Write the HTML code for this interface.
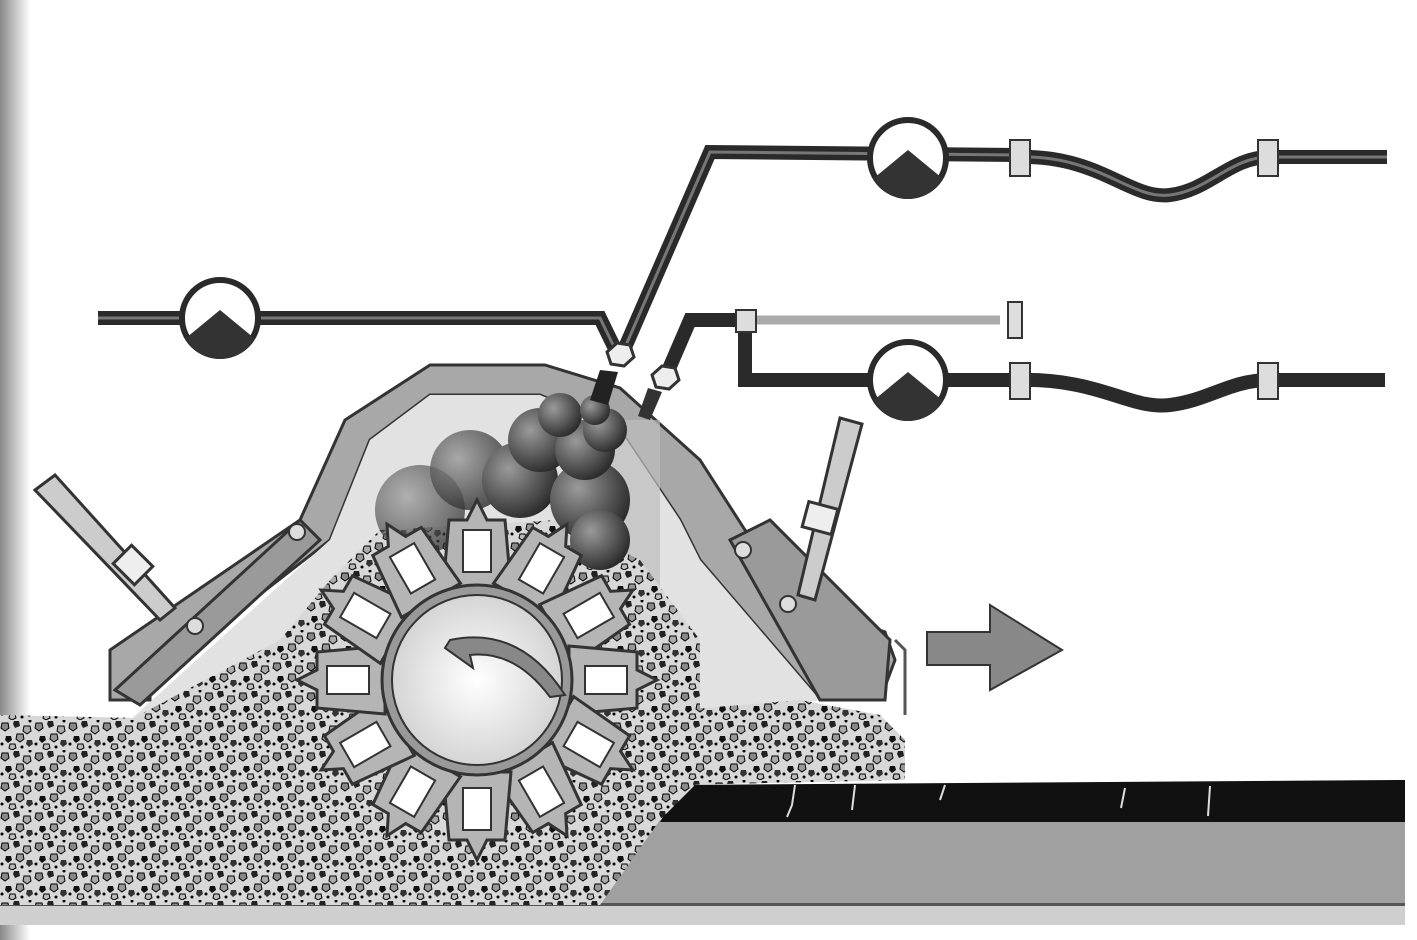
<!DOCTYPE html>
<html><head><meta charset="utf-8"><style>
html,body{margin:0;padding:0;background:#fff;width:1417px;height:940px;overflow:hidden}
</style></head><body>
<svg width="1417" height="940" viewBox="0 0 1417 940" xmlns="http://www.w3.org/2000/svg">
<defs>
<linearGradient id="lg" x1="0" x2="1"><stop offset="0" stop-color="#888"/><stop offset="1" stop-color="#fff"/></linearGradient>
<radialGradient id="ball" cx="0.35" cy="0.35" r="0.7"><stop offset="0" stop-color="#9a9a9a"/><stop offset="1" stop-color="#2a2a2a"/></radialGradient>
<radialGradient id="drum" cx="0.5" cy="0.5" r="0.6"><stop offset="0" stop-color="#fff"/><stop offset="1" stop-color="#ccc"/></radialGradient>
<pattern id="grav" width="34" height="30" patternUnits="userSpaceOnUse">
<rect width="34" height="30" fill="#d8d8d8"/>
<path d="M2 3h6l1 5-4 3-4-3z" fill="#888" stroke="#000" stroke-width="1"/>
<path d="M14 1h5l1 5-5 2-2-4z" fill="#222"/>
<path d="M24 6h6l1 5-4 3-4-3z" fill="#aaa" stroke="#000"/>
<path d="M6 16h5l1 4-4 3-3-3z" fill="#111"/>
<path d="M17 14h6l1 5-4 3-4-3z" fill="#999" stroke="#000"/>
<path d="M27 20h5l1 4-4 3-3-3z" fill="#333"/>
<path d="M10 24h5l1 4-4 2-3-2z" fill="#bbb" stroke="#000"/>
<circle cx="22" cy="27" r="1.5" fill="#000"/><circle cx="30" cy="1" r="1.5" fill="#000"/><circle cx="2" cy="24" r="1.5" fill="#000"/>
</pattern>
</defs>
<rect x="0" y="0" width="30" height="940" fill="url(#lg)"/>
<!-- ground -->
<rect x="600" y="820" width="805" height="88" fill="#a0a0a0"/>
<rect x="0" y="905" width="1405" height="20" fill="#cfcfcf"/>
<rect x="0" y="903" width="1405" height="3" fill="#555"/>
<path d="M680 785 L1405 780 L1405 822 L660 822 Z" fill="#111"/>
<path d="M795 785l-3 20 -5 12M855 785l-3 25M945 785l-5 15M1125 788l-4 20M1210 786l-2 30" stroke="#ddd" stroke-width="2" fill="none"/>
<!-- gravel left -->
<path d="M0 715 L140 718 L140 905 L0 905 Z" fill="url(#grav)"/>
<!-- housing -->
<path d="M110 700 L110 650 L300 520 L345 420 L430 365 L545 365 L620 388 L700 460 L745 530 L820 610 L885 632 L895 660 L880 700 L820 700 L700 560 L680 520 L620 430 L540 395 L430 395 L370 440 L330 540 L150 680 L150 700 Z" fill="#a8a8a8" stroke="#333" stroke-width="3"/>
<path d="M370 440 L430 395 L540 395 L620 430 L680 520 L700 560 L820 700 L700 720 L300 720 L130 720 L330 540 Z" fill="#e2e2e2"/>
<path d="M600 420 L660 420 L660 680 L600 680 Z" fill="#bdbdbd" opacity="0.7"/>
<!-- side plates -->
<path d="M115 690 L300 520 L320 540 L140 705 Z" fill="#9a9a9a" stroke="#333" stroke-width="3"/>
<path d="M730 540 L770 520 L890 640 L885 700 L820 700 Z" fill="#9a9a9a" stroke="#333" stroke-width="3"/>
<circle cx="297" cy="532" r="8" fill="#ddd" stroke="#333" stroke-width="2"/>
<circle cx="195" cy="626" r="8" fill="#ddd" stroke="#333" stroke-width="2"/>
<circle cx="743" cy="550" r="8" fill="#ddd" stroke="#333" stroke-width="2"/>
<circle cx="788" cy="604" r="8" fill="#ddd" stroke="#333" stroke-width="2"/>
<!-- cylinders -->
<path d="M35 490 L55 475 L175 608 L160 620 Z" fill="#ccc" stroke="#333" stroke-width="3"/>
<rect x="118" y="552" width="30" height="26" fill="#eee" stroke="#333" stroke-width="3" transform="rotate(45 133 565)"/>
<path d="M840 418 L862 424 L815 600 L798 595 Z" fill="#ccc" stroke="#333" stroke-width="3"/>
<rect x="805" y="505" width="30" height="26" fill="#eee" stroke="#333" stroke-width="3" transform="rotate(15 820 518)"/>
<path d="M895 640 L905 650 L905 715" stroke="#555" stroke-width="3" fill="none"/>
<!-- gravel under drum -->
<path d="M130 720 L280 640 L330 580 L380 530 L560 520 L640 560 L700 640 L700 780 L660 820 L600 905 L140 905 Z" fill="url(#grav)"/>
<path d="M680 710 L800 700 L880 715 L905 740 L905 780 L680 785 Z" fill="url(#grav)"/>
<!-- spray balls -->
<g fill="url(#ball)">
<circle cx="420" cy="510" r="45" opacity="0.7"/>
<circle cx="470" cy="470" r="40" opacity="0.8"/>
<circle cx="520" cy="480" r="38"/>
<circle cx="540" cy="440" r="32"/>
<circle cx="590" cy="500" r="40"/>
<circle cx="585" cy="450" r="30"/>
<circle cx="605" cy="430" r="22"/>
<circle cx="560" cy="415" r="22"/>
<circle cx="595" cy="410" r="15"/>
<circle cx="600" cy="540" r="30"/>
</g>
<!-- drum teeth -->
<g transform="translate(477 680)" fill="#b5b5b5" stroke="#333" stroke-width="3">
<g id="t"><path d="M-34 -92 L-28 -160 L-10 -160 L0 -180 L10 -160 L28 -160 L34 -92 Z"/><rect x="-14" y="-150" width="28" height="42" fill="#fff" stroke="#333" stroke-width="2"/></g>
<use href="#t" transform="rotate(30)"/><use href="#t" transform="rotate(60)"/><use href="#t" transform="rotate(90)"/>
<use href="#t" transform="rotate(120)"/><use href="#t" transform="rotate(150)"/><use href="#t" transform="rotate(180)"/>
<use href="#t" transform="rotate(210)"/><use href="#t" transform="rotate(240)"/><use href="#t" transform="rotate(270)"/>
<use href="#t" transform="rotate(300)"/><use href="#t" transform="rotate(330)"/>
</g>
<circle cx="477" cy="680" r="95" fill="#999" stroke="#333" stroke-width="3"/>
<circle cx="477" cy="680" r="85" fill="url(#drum)" stroke="#333" stroke-width="2"/>
<path d="M450 640 Q520 625 565 695 L550 697 Q515 650 470 655 L473 668 L445 648 Z" fill="#888" stroke="#333" stroke-width="2"/>
<!-- pipes -->
<g fill="none" stroke-linejoin="miter">
<path d="M98 318 L600 318 L618 355 M623 352 L710 152 L1020 155 M1268 157 L1387 157" stroke="#2a2a2a" stroke-width="14"/>
<path d="M98 318 L600 318 L618 355 M623 352 L710 152 L1020 155 M1268 157 L1387 157" stroke="#777" stroke-width="3"/>
<path d="M665 378 L690 320 L745 320 L745 380 L1020 380 M1268 380 L1385 380" stroke="#2a2a2a" stroke-width="14"/>
<path d="M745 320 L1000 320" stroke="#aaa" stroke-width="9"/>
</g>
<path d="M1018 157 C1100 155 1130 200 1170 195 C1210 190 1230 157 1270 157" stroke="#2a2a2a" stroke-width="14" fill="none"/>
<path d="M1018 157 C1100 155 1130 200 1170 195 C1210 190 1230 157 1270 157" stroke="#777" stroke-width="3" fill="none"/>
<path d="M1018 380 C1100 378 1130 410 1170 405 C1210 400 1230 380 1270 380" stroke="#2a2a2a" stroke-width="14" fill="none"/>
<g fill="#ddd" stroke="#333" stroke-width="2">
<rect x="1010" y="140" width="20" height="36"/><rect x="1258" y="140" width="20" height="36"/>
<rect x="1010" y="363" width="20" height="36"/><rect x="1258" y="363" width="20" height="36"/>
<rect x="1008" y="302" width="14" height="36"/><rect x="736" y="310" width="20" height="22"/>
</g>
<!-- nozzles -->
<path d="M600 370 L618 372 L608 405 L590 400 Z" fill="#222"/>
<path d="M648 388 L662 392 L650 420 L638 416 Z" fill="#333"/>
<polygon points="607,352 617,343 630,345 634,357 624,366 611,364" fill="#eee" stroke="#333" stroke-width="3"/>
<polygon points="652,375 662,366 675,368 679,380 669,389 656,387" fill="#eee" stroke="#333" stroke-width="3"/>
<!-- pumps -->
<g stroke="#2a2a2a" stroke-width="6" fill="#fff">
<circle cx="220" cy="318" r="38"/><circle cx="908" cy="158" r="38"/><circle cx="908" cy="380" r="38"/>
</g>
<g fill="#333">
<path d="M186 338 L220 310 L254 338 A38 38 0 0 1 186 338Z"/>
<path d="M874 178 L908 150 L942 178 A38 38 0 0 1 874 178Z"/>
<path d="M874 400 L908 372 L942 400 A38 38 0 0 1 874 400Z"/>
</g>
<!-- arrow -->
<path d="M927 632 L990 632 L990 605 L1062 650 L990 690 L990 665 L927 665 Z" fill="#888" stroke="#333" stroke-width="2"/>
</svg>
</body></html>
